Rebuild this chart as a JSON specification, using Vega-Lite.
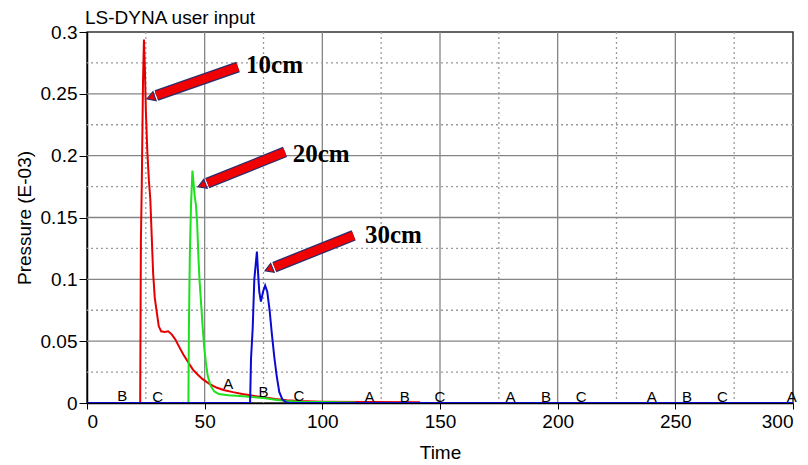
{
  "$schema": "https://vega.github.io/schema/vega-lite/v6.json",
  "width": 706,
  "height": 371,
  "autosize": "none",
  "padding": {"left": 87, "top": 32, "right": 15, "bottom": 62},
  "background": "white",
  "title": {"text": "LS-DYNA user input", "anchor": "start", "frame": "group", "fontSize": 19, "font": "Liberation Sans", "fontWeight": "normal", "color": "black", "offset": 6, "dx": -2, "dy": 11},
  "config": {
    "view": {"stroke": "#333", "strokeWidth": 1.5},
    "axis": {"labelFont": "Liberation Sans", "titleFont": "Liberation Sans", "labelFontSize": 19, "titleFontSize": 19, "titleFontWeight": "normal", "labelColor": "black", "titleColor": "black", "domainColor": "black", "tickColor": "black", "grid": false}
  },
  "datasets": {
    "gridx": [
      {"v": 25, "major": "no"}, {"v": 50, "major": "yes"}, {"v": 75, "major": "no"}, {"v": 100, "major": "yes"}, {"v": 125, "major": "no"}, {"v": 150, "major": "yes"}, {"v": 175, "major": "no"}, {"v": 200, "major": "yes"}, {"v": 225, "major": "no"}, {"v": 250, "major": "yes"}, {"v": 275, "major": "no"}
    ],
    "gridy": [
      {"v": 0.025, "major": "no"}, {"v": 0.05, "major": "yes"}, {"v": 0.075, "major": "no"}, {"v": 0.1, "major": "yes"}, {"v": 0.125, "major": "no"}, {"v": 0.15, "major": "yes"}, {"v": 0.175, "major": "no"}, {"v": 0.2, "major": "yes"}, {"v": 0.225, "major": "no"}, {"v": 0.25, "major": "yes"}, {"v": 0.275, "major": "no"}
    ],
    "curves": [
      {"t": 0, "p": 0, "s": "10cm"}, {"t": 22.6, "p": 0, "s": "10cm"}, {"t": 22.9, "p": 0.13, "s": "10cm"}, {"t": 23.3, "p": 0.18, "s": "10cm"}, {"t": 23.8, "p": 0.26, "s": "10cm"}, {"t": 24.2, "p": 0.294, "s": "10cm"}, {"t": 24.6, "p": 0.27, "s": "10cm"}, {"t": 25.0, "p": 0.237, "s": "10cm"}, {"t": 25.6, "p": 0.205, "s": "10cm"}, {"t": 26.3, "p": 0.18, "s": "10cm"}, {"t": 26.9, "p": 0.165, "s": "10cm"}, {"t": 27.5, "p": 0.135, "s": "10cm"}, {"t": 28.1, "p": 0.105, "s": "10cm"}, {"t": 28.8, "p": 0.085, "s": "10cm"}, {"t": 29.6, "p": 0.074, "s": "10cm"}, {"t": 30.5, "p": 0.062, "s": "10cm"}, {"t": 31.5, "p": 0.058, "s": "10cm"}, {"t": 33, "p": 0.0575, "s": "10cm"}, {"t": 34.5, "p": 0.058, "s": "10cm"}, {"t": 36, "p": 0.0555, "s": "10cm"}, {"t": 37.5, "p": 0.0515, "s": "10cm"}, {"t": 39, "p": 0.046, "s": "10cm"}, {"t": 41, "p": 0.039, "s": "10cm"}, {"t": 43, "p": 0.033, "s": "10cm"}, {"t": 45, "p": 0.027, "s": "10cm"}, {"t": 47, "p": 0.023, "s": "10cm"}, {"t": 49, "p": 0.0195, "s": "10cm"}, {"t": 52, "p": 0.0155, "s": "10cm"}, {"t": 55, "p": 0.0125, "s": "10cm"}, {"t": 58, "p": 0.0105, "s": "10cm"}, {"t": 62, "p": 0.0088, "s": "10cm"}, {"t": 66, "p": 0.0073, "s": "10cm"}, {"t": 70, "p": 0.006, "s": "10cm"}, {"t": 75, "p": 0.0046, "s": "10cm"}, {"t": 80, "p": 0.0032, "s": "10cm"}, {"t": 85, "p": 0.0022, "s": "10cm"}, {"t": 90, "p": 0.0016, "s": "10cm"}, {"t": 100, "p": 0.0011, "s": "10cm"}, {"t": 120, "p": 0.0008, "s": "10cm"}, {"t": 141.5, "p": 0.0006, "s": "10cm"},
      {"t": 0, "p": 0, "s": "20cm"}, {"t": 43.1, "p": 0, "s": "20cm"}, {"t": 43.3, "p": 0.06, "s": "20cm"}, {"t": 43.7, "p": 0.12, "s": "20cm"}, {"t": 44.2, "p": 0.16, "s": "20cm"}, {"t": 44.8, "p": 0.188, "s": "20cm"}, {"t": 45.2, "p": 0.18, "s": "20cm"}, {"t": 45.7, "p": 0.168, "s": "20cm"}, {"t": 46.3, "p": 0.16, "s": "20cm"}, {"t": 46.8, "p": 0.146, "s": "20cm"}, {"t": 47.3, "p": 0.12, "s": "20cm"}, {"t": 47.8, "p": 0.1, "s": "20cm"}, {"t": 48.5, "p": 0.08, "s": "20cm"}, {"t": 49.2, "p": 0.06, "s": "20cm"}, {"t": 49.8, "p": 0.045, "s": "20cm"}, {"t": 50.5, "p": 0.033, "s": "20cm"}, {"t": 51.3, "p": 0.022, "s": "20cm"}, {"t": 52.5, "p": 0.014, "s": "20cm"}, {"t": 54, "p": 0.0095, "s": "20cm"}, {"t": 56, "p": 0.0073, "s": "20cm"}, {"t": 60, "p": 0.0062, "s": "20cm"}, {"t": 65, "p": 0.0056, "s": "20cm"}, {"t": 70, "p": 0.0049, "s": "20cm"}, {"t": 75, "p": 0.004, "s": "20cm"}, {"t": 80, "p": 0.0027, "s": "20cm"}, {"t": 85, "p": 0.0016, "s": "20cm"}, {"t": 90, "p": 0.0011, "s": "20cm"}, {"t": 100, "p": 0.0008, "s": "20cm"}, {"t": 114, "p": 0.0005, "s": "20cm"},
      {"t": 0, "p": 0, "s": "30cm"}, {"t": 69.3, "p": 0, "s": "30cm"}, {"t": 69.7, "p": 0.036, "s": "30cm"}, {"t": 70.4, "p": 0.06, "s": "30cm"}, {"t": 71.1, "p": 0.1, "s": "30cm"}, {"t": 72.2, "p": 0.1225, "s": "30cm"}, {"t": 72.7, "p": 0.105, "s": "30cm"}, {"t": 73.2, "p": 0.09, "s": "30cm"}, {"t": 73.9, "p": 0.082, "s": "30cm"}, {"t": 74.8, "p": 0.09, "s": "30cm"}, {"t": 75.7, "p": 0.095, "s": "30cm"}, {"t": 76.6, "p": 0.09, "s": "30cm"}, {"t": 77.6, "p": 0.075, "s": "30cm"}, {"t": 78.6, "p": 0.055, "s": "30cm"}, {"t": 79.6, "p": 0.037, "s": "30cm"}, {"t": 80.6, "p": 0.022, "s": "30cm"}, {"t": 81.7, "p": 0.009, "s": "30cm"}, {"t": 83, "p": 0.003, "s": "30cm"}, {"t": 84.5, "p": 0.0007, "s": "30cm"}, {"t": 86, "p": 0, "s": "30cm"}, {"t": 300, "p": 0, "s": "30cm"}
    ],
    "letters": [
      {"t": 15, "p": 0.0055, "l": "B"}, {"t": 30, "p": 0.005, "l": "C"}, {"t": 60, "p": 0.0153, "l": "A"}, {"t": 75, "p": 0.009, "l": "B"}, {"t": 90, "p": 0.0058, "l": "C"},
      {"t": 120, "p": 0.005, "l": "A"}, {"t": 135, "p": 0.005, "l": "B"}, {"t": 150, "p": 0.005, "l": "C"},
      {"t": 180, "p": 0.005, "l": "A"}, {"t": 195, "p": 0.005, "l": "B"}, {"t": 210, "p": 0.005, "l": "C"},
      {"t": 240, "p": 0.005, "l": "A"}, {"t": 255, "p": 0.005, "l": "B"}, {"t": 270, "p": 0.005, "l": "C"},
      {"t": 299.5, "p": 0.005, "l": "A"}
    ],
    "arrows": [
      {"name": "10cm", "tx": 64.16, "ty": 0.2717, "ex": 29.5, "ey": 0.2486, "hx": 25.5, "hy": 0.2459, "ang": 340.6, "lx": 67.6, "ly": 0.2733},
      {"name": "20cm", "tx": 84.14, "ty": 0.203, "ex": 51.1, "ey": 0.1778, "hx": 47.17, "hy": 0.1748, "ang": 338.1, "lx": 87.4, "ly": 0.2014},
      {"name": "30cm", "tx": 113.3, "ty": 0.1355, "ex": 79.6, "ey": 0.1099, "hx": 75.64, "hy": 0.1069, "ang": 338.2, "lx": 118.1, "ly": 0.1361}
    ]
  },
  "layer": [
    {
      "data": {"name": "gridx"},
      "mark": {"type": "rule", "strokeWidth": 1.3},
      "encoding": {
        "x": {"field": "v", "type": "quantitative"},
        "color": {"field": "major", "type": "nominal", "scale": {"domain": ["yes", "no"], "range": ["#858585", "#9a9a9a"]}, "legend": null},
        "strokeDash": {"field": "major", "type": "nominal", "scale": {"domain": ["yes", "no"], "range": [[1, 0], [2, 3]]}, "legend": null}
      }
    },
    {
      "data": {"name": "gridy"},
      "mark": {"type": "rule", "strokeWidth": 1.3},
      "encoding": {
        "y": {"field": "v", "type": "quantitative"},
        "color": {"field": "major", "type": "nominal", "legend": null},
        "strokeDash": {"field": "major", "type": "nominal", "legend": null}
      }
    },
    {
      "data": {"name": "curves"},
      "mark": {"type": "line", "strokeWidth": 2, "clip": true},
      "encoding": {
        "x": {"field": "t", "type": "quantitative", "scale": {"domain": [0, 300], "nice": false, "zero": false}, "title": "Time",
          "axis": {"values": [0, 25, 50, 75, 100, 125, 150, 175, 200, 225, 250, 275, 300], "labelExpr": "datum.value % 50 === 0 ? datum.label : ''",
            "tickSize": {"condition": {"test": "datum.value % 50 !== 0", "value": 0}, "value": 6},
            "labelPadding": 3, "titlePadding": 12, "domainWidth": 1.5}},
        "y": {"field": "p", "type": "quantitative", "scale": {"domain": [0, 0.3], "nice": false}, "title": "Pressure (E-03)",
          "axis": {"values": [0, 0.025, 0.05, 0.075, 0.1, 0.125, 0.15, 0.175, 0.2, 0.225, 0.25, 0.275, 0.3], "labelExpr": "(datum.value*40) % 2 > 0.5 ? '' : format(datum.value, '~g')",
            "tickSize": {"condition": {"test": "(datum.value*40) % 2 > 0.5", "value": 0}, "value": 8},
            "labelPadding": 2, "titlePadding": 6, "domainWidth": 1.5}},
        "stroke": {"field": "s", "type": "nominal", "scale": {"domain": ["10cm", "20cm", "30cm"], "range": ["#e30000", "#1fe01f", "#0a0ad0"]}, "legend": null},
        "detail": {"field": "s"},
        "order": {"field": "t", "type": "quantitative"}
      }
    },
    {
      "data": {"name": "letters"},
      "mark": {"type": "text", "font": "Liberation Sans", "fontSize": 15, "fontWeight": "normal", "color": "#000", "baseline": "middle", "align": "center"},
      "encoding": {
        "x": {"field": "t", "type": "quantitative"},
        "y": {"field": "p", "type": "quantitative"},
        "text": {"field": "l"}
      }
    },
    {
      "data": {"name": "arrows"},
      "mark": {"type": "rule", "strokeWidth": 11, "color": "#2b2d6e", "strokeCap": "butt"},
      "encoding": {
        "x": {"field": "tx", "type": "quantitative"},
        "y": {"field": "ty", "type": "quantitative"},
        "x2": {"field": "ex"},
        "y2": {"field": "ey"}
      }
    },
    {
      "data": {"name": "arrows"},
      "mark": {"type": "rule", "strokeWidth": 8.5, "color": "#f00000", "strokeCap": "butt"},
      "encoding": {
        "x": {"field": "tx", "type": "quantitative"},
        "y": {"field": "ty", "type": "quantitative"},
        "x2": {"field": "ex"},
        "y2": {"field": "ey"}
      }
    },
    {
      "data": {"name": "arrows"},
      "mark": {"type": "point", "shape": "M0,0L1,-0.6L1,0.6Z", "filled": true, "size": 256, "color": "#f00000", "stroke": "#2b2d6e", "strokeWidth": 1.2, "opacity": 1},
      "encoding": {
        "x": {"field": "hx", "type": "quantitative"},
        "y": {"field": "hy", "type": "quantitative"},
        "angle": {"field": "ang", "type": "quantitative", "scale": null}
      }
    },
    {
      "data": {"name": "arrows"},
      "mark": {"type": "text", "font": "Liberation Serif", "fontSize": 25, "fontWeight": "bold", "color": "black", "align": "left", "baseline": "middle"},
      "encoding": {
        "x": {"field": "lx", "type": "quantitative"},
        "y": {"field": "ly", "type": "quantitative"},
        "text": {"field": "name"}
      }
    }
  ]
}
